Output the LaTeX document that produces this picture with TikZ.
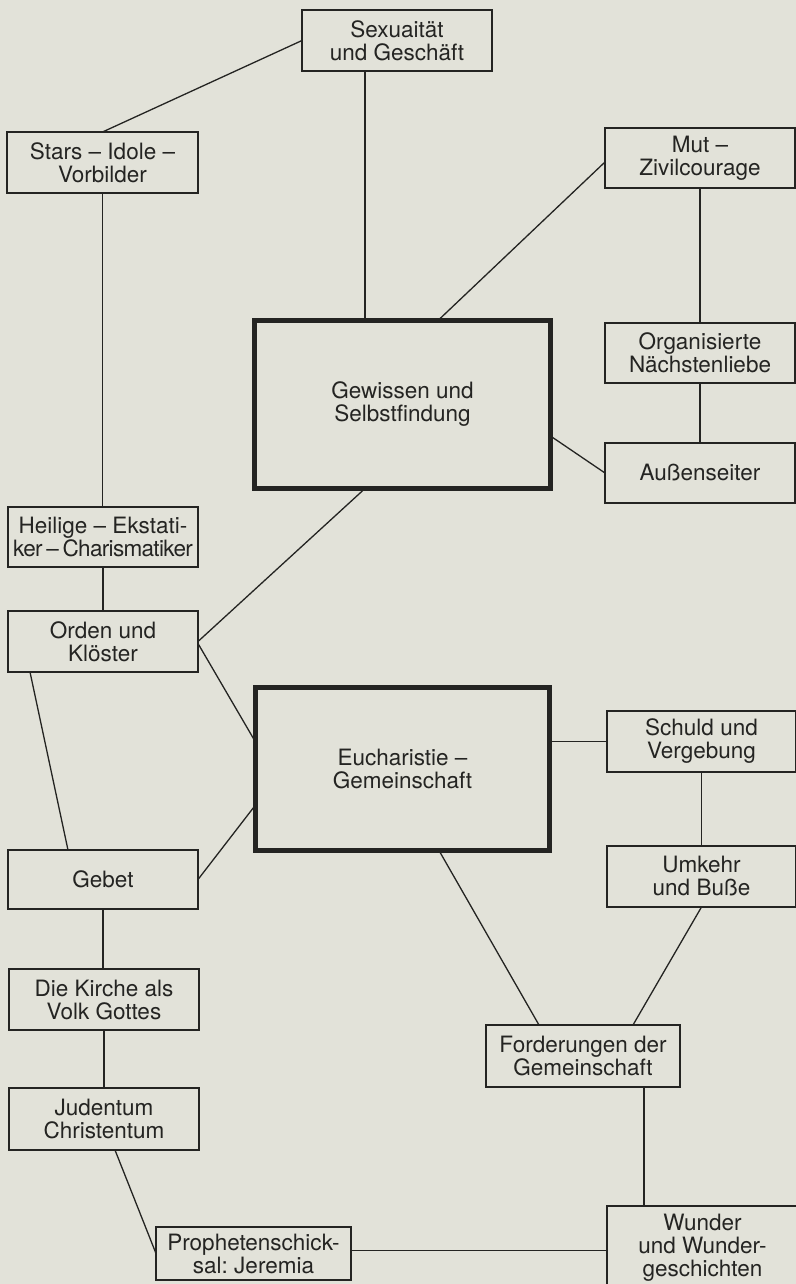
\documentclass[tikz,border=0pt]{standalone}
\usepackage{fontspec}
\setmainfont{TeX Gyre Heros}
\usetikzlibrary{calc}
\definecolor{paper}{RGB}{226,226,217}
\definecolor{ink}{RGB}{36,36,34}
\newcommand{\boxfont}{\fontsize{22.5bp}{23bp}\selectfont\frenchspacing}
\begin{document}
\begin{tikzpicture}[x=1bp,y=-1bp,
  box/.style={draw=ink, line width=1.6bp, inner sep=0pt, outer sep=0pt, align=center, font=\boxfont, text=ink},
  bigbox/.style={box, line width=5bp},
  link/.style={draw=ink, line width=1.3bp}]
\useasboundingbox (0,0) rectangle (796,1284);
\fill[paper] (0,0) rectangle (796,1284);
\clip (0,0) rectangle (796,1284);

% nodes
\node[box, minimum width=190bp, minimum height=61bp] (sex) at (397,40.5) {Sexuaität\\und Geschäft};
\node[box, minimum width=191bp, minimum height=61bp] (stars) at (102.5,162.5) {Stars -- Idole --\\Vorbilder};
\node[box, minimum width=190bp, minimum height=60bp] (mut) at (700,158) {Mut --\\Zivilcourage};
\node[bigbox, minimum width=296bp, minimum height=168bp] (gew) at (402.5,404.5) {Gewissen und\\Selbstfindung};
\node[box, minimum width=190bp, minimum height=60bp] (org) at (700,353) {Organisierte\\Nächstenliebe};
\node[box, minimum width=190bp, minimum height=60bp] (aus) at (700,473) {Außenseiter};
\node[box, minimum width=190bp, minimum height=60bp] (heil) at (103,537) {Heilige -- Ekstati-\\{\addfontfeature{LetterSpace=-3}ker\,--\,Charismatiker}};
\node[box, minimum width=190bp, minimum height=61bp] (orden) at (103,641.5) {Orden und\\Klöster};
\node[bigbox, minimum width=294bp, minimum height=163bp] (euch) at (402.5,769) {Eucharistie --\\Gemeinschaft};
\node[box, minimum width=189bp, minimum height=61bp] (schuld) at (701.5,741.5) {Schuld und\\Vergebung};
\node[box, minimum width=189bp, minimum height=61bp] (umkehr) at (701.5,876.5) {Umkehr\\und Buße};
\node[box, minimum width=190bp, minimum height=59bp] (gebet) at (103,879.5) {Gebet};
\node[box, minimum width=190bp, minimum height=61bp] (kirche) at (104,999.5) {Die Kirche als\\Volk Gottes};
\node[box, minimum width=190bp, minimum height=62bp] (juden) at (104,1119) {Judentum\\Christentum};
\node[box, minimum width=195bp, minimum height=53bp] (proph) at (253.5,1253.5) {Prophetenschick-\\sal: Jeremia};
\node[box, minimum width=194bp, minimum height=62bp] (ford) at (583,1056) {Forderungen der\\Gemeinschaft};
\node[box, minimum width=191bp, minimum height=84bp] (wunder) at (702.5,1248) {Wunder\\und Wunder-\\geschichten};

% connectors
\draw[link] (stars.north) -- (sex.west);
\draw[link] ([xshift=-32bp]sex.south) -- ([xshift=-32bp]sex.south |- gew.north);
\draw[link] ([yshift=-4bp]mut.west) -- ([xshift=35.5bp]gew.north);
\draw[link] (stars.south) -- (stars.south |- heil.north);
\draw[link] (mut.south) -- (mut.south |- org.north);
\draw[link] (org.south) -- (org.south |- aus.north);
\draw[link] ([yshift=-31.5bp]gew.east) -- (aus.west);
\draw[link] (heil.south) -- (heil.south |- orden.north);
\draw[link] (orden.east) -- ([xshift=-37.5bp]gew.south);
\draw[link] ([yshift=-2bp]orden.east) -- ([yshift=27bp]euch.west);
\draw[link] ([xshift=22bp]orden.south west) -- ([xshift=60bp]gebet.north west);
\draw[link] (gebet.east) -- ([yshift=-36bp]euch.west);
\draw[link] (schuld.west -| euch.east) -- (schuld.west);
\draw[link] (schuld.south) -- (schuld.south |- umkehr.north);
\draw[link] ([xshift=36.5bp]euch.south) -- ([xshift=-44bp]ford.north);
\draw[link] (umkehr.south) -- ([xshift=50bp]ford.north);
\draw[link] (gebet.south) -- (gebet.south |- kirche.north);
\draw[link] (kirche.south) -- (kirche.south |- juden.north);
\draw[link] ([xshift=11bp]juden.south) -- (proph.west);
\draw[link] ([yshift=3bp]proph.east) -- ([yshift=3bp]proph.east -| wunder.west);
\draw[link] ([xshift=61bp]ford.south) -- ([xshift=61bp]ford.south |- wunder.north);
\end{tikzpicture}
\end{document}
